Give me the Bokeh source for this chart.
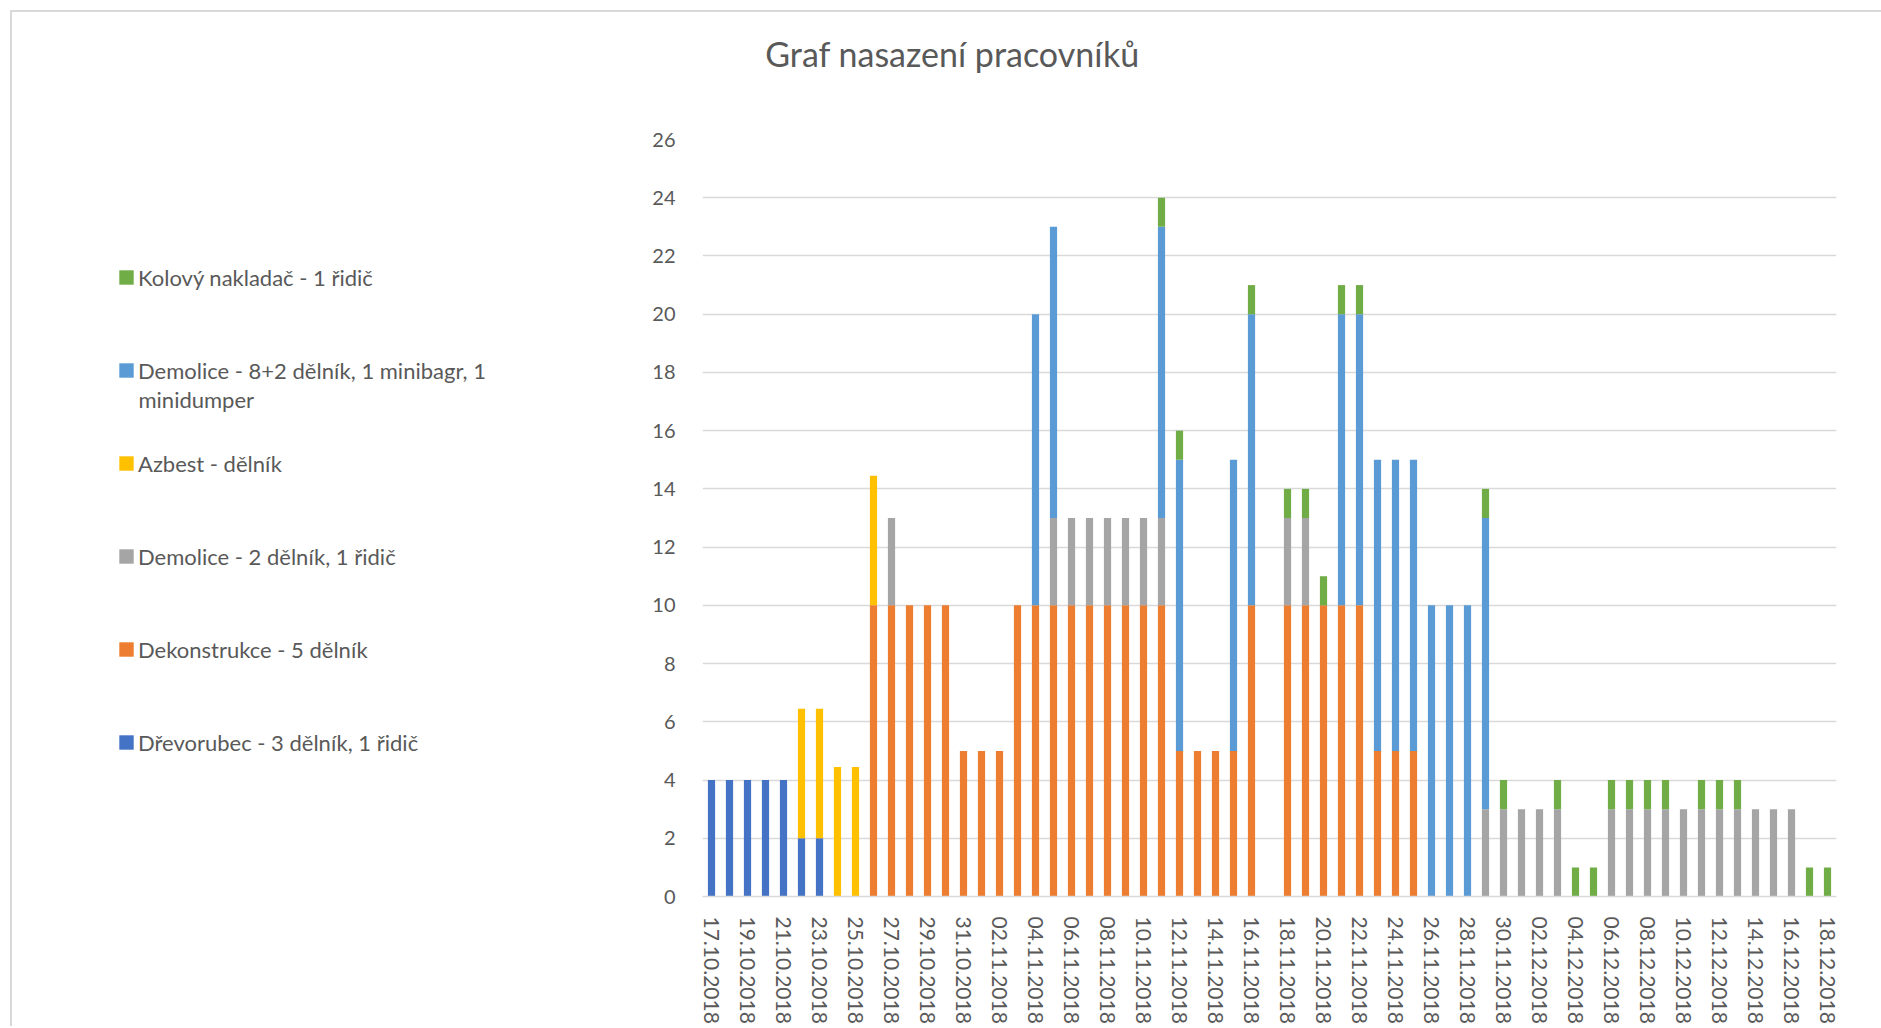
from bokeh.plotting import figure
from bokeh.layouts import column, row
from bokeh.models import Range1d, FixedTicker, SingleIntervalTicker, Legend, LegendItem, Label, ColumnDataSource
from bokeh.embed import file_html
from bokeh.resources import INLINE

dates = [
    "17.10.2018", "18.10.2018", "19.10.2018", "20.10.2018", "21.10.2018", "22.10.2018", "23.10.2018",
    "24.10.2018", "25.10.2018", "26.10.2018", "27.10.2018", "28.10.2018", "29.10.2018", "30.10.2018",
    "31.10.2018", "01.11.2018", "02.11.2018", "03.11.2018", "04.11.2018", "05.11.2018", "06.11.2018",
    "07.11.2018", "08.11.2018", "09.11.2018", "10.11.2018", "11.11.2018", "12.11.2018", "13.11.2018",
    "14.11.2018", "15.11.2018", "16.11.2018", "17.11.2018", "18.11.2018", "19.11.2018", "20.11.2018",
    "21.11.2018", "22.11.2018", "23.11.2018", "24.11.2018", "25.11.2018", "26.11.2018", "27.11.2018",
    "28.11.2018", "29.11.2018", "30.11.2018", "01.12.2018", "02.12.2018", "03.12.2018", "04.12.2018",
    "05.12.2018", "06.12.2018", "07.12.2018", "08.12.2018", "09.12.2018", "10.12.2018", "11.12.2018",
    "12.12.2018", "13.12.2018", "14.12.2018", "15.12.2018", "16.12.2018", "17.12.2018", "18.12.2018",
]

drevorubec = [4, 4, 4, 4, 4, 2, 2, 0, 0, 0,
              0, 0, 0, 0, 0, 0, 0, 0, 0, 0,
              0, 0, 0, 0, 0, 0, 0, 0, 0, 0,
              0, 0, 0, 0, 0, 0, 0, 0, 0, 0,
              0, 0, 0, 0, 0, 0, 0, 0, 0, 0,
              0, 0, 0, 0, 0, 0, 0, 0, 0, 0,
              0, 0, 0]
dekonstrukce = [0, 0, 0, 0, 0, 0, 0, 0, 0, 10,
                10, 10, 10, 10, 5, 5, 5, 10, 10, 10,
                10, 10, 10, 10, 10, 10, 5, 5, 5, 5,
                10, 0, 10, 10, 10, 10, 10, 5, 5, 5,
                0, 0, 0, 0, 0, 0, 0, 0, 0, 0,
                0, 0, 0, 0, 0, 0, 0, 0, 0, 0,
                0, 0, 0]
demolice2 = [0, 0, 0, 0, 0, 0, 0, 0, 0, 0,
             3, 0, 0, 0, 0, 0, 0, 0, 0, 3,
             3, 3, 3, 3, 3, 3, 0, 0, 0, 0,
             0, 0, 3, 3, 0, 0, 0, 0, 0, 0,
             0, 0, 0, 3, 3, 3, 3, 3, 0, 0,
             3, 3, 3, 3, 3, 3, 3, 3, 3, 3,
             3, 0, 0]
azbest = [0, 0, 0, 0, 0, 4.45, 4.45, 4.45, 4.45, 4.45,
          0, 0, 0, 0, 0, 0, 0, 0, 0, 0,
          0, 0, 0, 0, 0, 0, 0, 0, 0, 0,
          0, 0, 0, 0, 0, 0, 0, 0, 0, 0,
          0, 0, 0, 0, 0, 0, 0, 0, 0, 0,
          0, 0, 0, 0, 0, 0, 0, 0, 0, 0,
          0, 0, 0]
demolice8 = [0, 0, 0, 0, 0, 0, 0, 0, 0, 0,
             0, 0, 0, 0, 0, 0, 0, 0, 10, 10,
             0, 0, 0, 0, 0, 10, 10, 0, 0, 10,
             10, 0, 0, 0, 0, 10, 10, 10, 10, 10,
             10, 10, 10, 10, 0, 0, 0, 0, 0, 0,
             0, 0, 0, 0, 0, 0, 0, 0, 0, 0,
             0, 0, 0]
kolovy = [0, 0, 0, 0, 0, 0, 0, 0, 0, 0,
          0, 0, 0, 0, 0, 0, 0, 0, 0, 0,
          0, 0, 0, 0, 0, 1, 1, 0, 0, 0,
          1, 0, 1, 1, 1, 1, 1, 0, 0, 0,
          0, 0, 0, 1, 1, 0, 0, 1, 1, 1,
          1, 1, 1, 1, 0, 1, 1, 1, 0, 0,
          0, 1, 1]

series_keys = ["drevorubec", "dekonstrukce", "demolice2", "azbest", "demolice8", "kolovy"]
series_names = ["Dřevorubec - 3 dělník, 1 řidič", "Dekonstrukce - 5 dělník",
                "Demolice - 2 dělník, 1 řidič", "Azbest - dělník",
                "Demolice - 8+2 dělník, 1 minibagr, 1", "Kolový nakladač - 1 řidič"]
legend_wrap = "minidumper"
title_text = "Graf nasazení pracovníků"
colors = ["#4472C4", "#ED7D31", "#A5A5A5", "#FFC000", "#5B9BD5", "#70AD47"]

TEXT = "#595959"
FONT = "Lato"
GRID = "#D9D9D9"

positions = list(range(len(dates)))
source = ColumnDataSource(data=dict(
    x=positions, drevorubec=drevorubec, dekonstrukce=dekonstrukce, demolice2=demolice2,
    azbest=azbest, demolice8=demolice8, kolovy=kolovy))


def blank_fig(w, h, top=0, bottom=0):
    f = figure(width=w, height=h, output_backend="svg", toolbar_location=None,
               x_axis_type=None, y_axis_type=None,
               x_range=Range1d(0, 1), y_range=Range1d(0, 1),
               min_border_left=0, min_border_right=0, min_border_top=top, min_border_bottom=bottom)
    f.outline_line_color = None
    f.background_fill_color = "white"
    f.border_fill_color = "white"
    f.grid.visible = False
    return f


# ---- title strip ----
title_fig = blank_fig(1869, 115)
title_fig.add_layout(Label(x=940, y=74, x_units="screen", y_units="screen", text=title_text,
                           text_font=FONT, text_font_size="34px", text_color=TEXT,
                           text_baseline="alphabetic", text_align="center"))

# ---- chart ----
p = figure(width=1309, height=899, output_backend="svg", toolbar_location=None,
           x_range=Range1d(-0.5, len(dates) - 0.5), y_range=Range1d(0, 26),
           min_border_left=130, min_border_right=45, min_border_top=12, min_border_bottom=126)
p.outline_line_color = None
p.background_fill_color = "white"
p.border_fill_color = "white"

renderers = p.vbar_stack(series_keys, x="x", width=0.4, color=colors, line_color=None, source=source)

p.yaxis.ticker = SingleIntervalTicker(interval=2, num_minor_ticks=0)
p.yaxis.axis_line_color = None
p.yaxis.major_tick_line_color = None
p.yaxis.minor_tick_line_color = None
p.yaxis.major_label_text_font = FONT
p.yaxis.major_label_text_font_size = "20px"
p.yaxis.major_label_text_color = TEXT
p.yaxis.major_label_standoff = 21

p.xaxis.ticker = FixedTicker(ticks=positions[::2])
p.xaxis.major_label_overrides = {i: dates[i] for i in positions[::2]}
p.xaxis.axis_line_color = GRID
p.xaxis.axis_line_width = 1.3
p.xaxis.major_tick_line_color = None
p.xaxis.minor_tick_line_color = None
p.xaxis.major_label_orientation = "vertical"
p.xaxis.major_label_text_font = FONT
p.xaxis.major_label_text_font_size = "21px"
p.xaxis.major_label_text_color = TEXT
p.xaxis.major_label_standoff = 14

p.xgrid.grid_line_color = None
p.ygrid.grid_line_color = GRID
p.ygrid.grid_line_width = 1.3

# ---- legend panel (frame aligned with the chart frame) ----
leg_fig = blank_fig(560, 899, top=12, bottom=126)
swatches = [leg_fig.vbar(x=[0], top=[0], bottom=[0], width=0.01, color=c, line_color=None) for c in colors]
items = [LegendItem(label=series_names[k], renderers=[swatches[k]]) for k in range(5, -1, -1)]
legend = Legend(items=items, location=(105, 139), orientation="vertical",
                spacing=63, label_height=30, glyph_height=18, glyph_width=18,
                label_standoff=3, padding=0, margin=0,
                border_line_alpha=0, background_fill_alpha=0,
                label_text_font=FONT, label_text_font_size="22px", label_text_color=TEXT)
leg_fig.add_layout(legend)
leg_fig.add_layout(Label(x=126, y=497, x_units="screen", y_units="screen", text=legend_wrap,
                         text_font=FONT, text_font_size="22px", text_color=TEXT,
                         text_baseline="middle", text_align="left"))

layout = column(title_fig, row(leg_fig, p))
layout.styles = {"border-left": "2px solid #D9D9D9", "border-top": "2px solid #D9D9D9",
                 "margin-left": "10px", "margin-top": "10px"}

open("out.html", "w").write(file_html(layout, INLINE))
